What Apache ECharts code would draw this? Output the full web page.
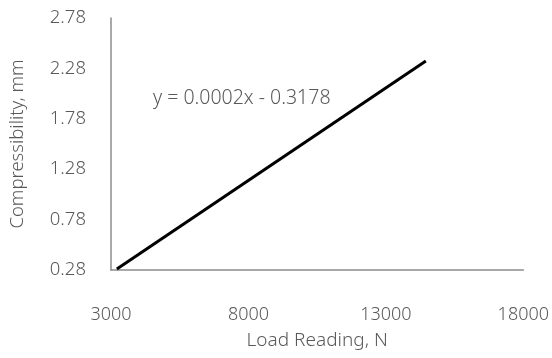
<!DOCTYPE html>
<html>
<head>
<meta charset="utf-8">
<script src="https://cdn.jsdelivr.net/npm/echarts@6/dist/echarts.min.js"></script>
<style>
  html, body { margin: 0; padding: 0; background: #fff; }
  #chart { width: 552px; height: 358px; }
</style>
</head>
<body>
<div id="chart"></div>
<script>
  // trendline end points
  const loadReading = [3213, 14454];
  const compressibility = [0.29, 2.353];
  const equationText = "y = 0.0002x - 0.3178";

  const chart = echarts.init(document.getElementById("chart"));
  const textColor = "#595959";
  const font = "Noto Sans";

  chart.setOption({
    animation: false,
    grid: { left: 102, right: 27, top: 18, bottom: 88 },
    xAxis: {
      type: "value",
      min: 3000,
      max: 18000,
      interval: 5000,
      name: "Load Reading, N",
      nameLocation: "middle",
      nameGap: 61,
      nameTextStyle: { color: textColor, fontSize: 19, fontFamily: font, fontWeight: 300 },
      axisLine: { show: true, lineStyle: { color: "#8c8c8c", width: 1.5 } },
      axisTick: { show: false },
      splitLine: { show: false },
      axisLabel: {
        color: textColor, fontSize: 18, fontFamily: font, fontWeight: 300, margin: 36,
        formatter: v => String(v)
      }
    },
    yAxis: {
      type: "value",
      min: 0.28,
      max: 2.78,
      interval: 0.5,
      name: "Compressibility, mm",
      nameLocation: "middle",
      nameGap: 84,
      nameRotate: 90,
      nameTextStyle: { color: textColor, fontSize: 18.5, fontFamily: font, fontWeight: 300 },
      axisLine: { show: true, lineStyle: { color: "#8c8c8c", width: 1.5 } },
      axisTick: { show: false },
      splitLine: { show: false },
      axisLabel: {
        color: textColor, fontSize: 18.5, fontFamily: font, fontWeight: 300, margin: 25,
        formatter: v => v.toFixed(2)
      }
    },
    series: [{
      type: "line",
      data: loadReading.map((x, i) => [x, compressibility[i]]),
      showSymbol: false,
      lineStyle: { color: "#000", width: 3 }
    }],
    graphic: [{
      type: "text",
      left: 153,
      top: 88,
      style: { text: equationText, fill: textColor, fontSize: 19.5, fontFamily: font, fontWeight: 300 }
    }]
  });
</script>
</body>
</html>
